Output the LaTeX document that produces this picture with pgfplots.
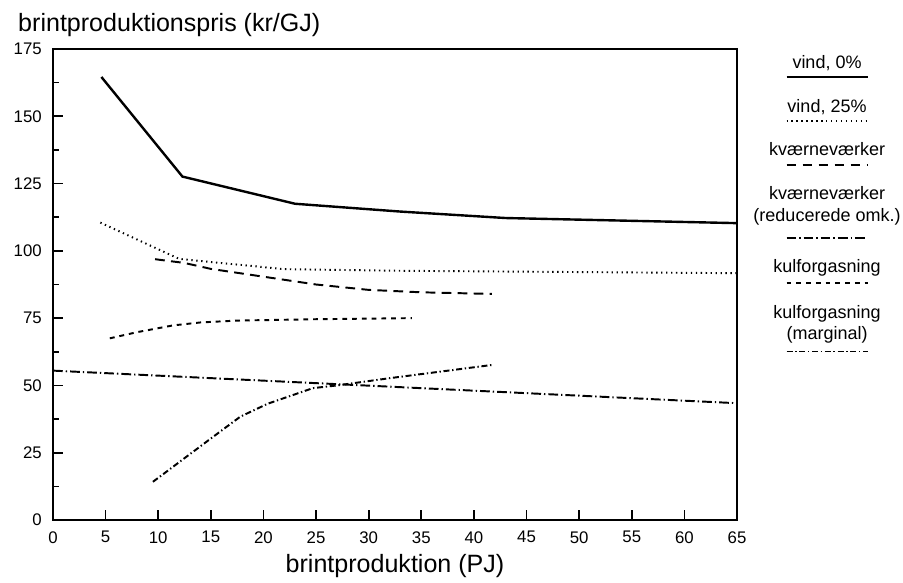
\documentclass[border=0pt]{standalone}
\usepackage{fontspec}
\setmainfont{Liberation Sans}
\usepackage{pgfplots}
\pgfplotsset{compat=1.18}

% line samples that sit under each legend text
\newcommand{\legline}[1]{\tikz[baseline=0pt]\draw[line width=1.3pt,#1] (0,0.7pt) -- (54pt,0.7pt);}

\tikzset{
  dotline/.style={dash pattern=on 0.9pt off 2.4pt},
  longdash/.style={dash pattern=on 6.5pt off 4.2pt},
  shortdash/.style={dash pattern=on 3.3pt off 3.2pt},
  dashdot/.style={dash pattern=on 6.5pt off 2pt on 0.9pt off 2pt},
  dashdotshort/.style={dash pattern=on 4pt off 1.8pt on 0.9pt off 1.8pt},
}

\begin{document}
\begin{tikzpicture}
\begin{axis}[
    name=ax,
    scale only axis,
    width=456pt, height=314pt,
    xmin=0, xmax=65, ymin=0, ymax=175,
    xtick={0,5,...,65},
    ytick={0,25,...,175},
    minor ytick={12.5,37.5,...,162.5},
    tick pos=left,
    tick align=inside,
    axis line style={line width=1.5pt},
    every tick/.style={black, line width=1.1pt},
    major tick length=6.5pt,
    minor tick length=4pt,
    /pgf/number format/assume math mode=true,
    ticklabel style={font=\fontsize{11.2}{13}\selectfont},
    xticklabel style={yshift=-4pt},
    yticklabel style={xshift=-4pt},
    xlabel={brintproduktion (PJ)},
    xlabel style={font=\fontsize{16.7}{19}\selectfont, at={(axis description cs:0.5,0)}, anchor=base, yshift=-35.3pt},
    ylabel={brintproduktionspris (kr/GJ)},
    ylabel style={font=\fontsize{16.7}{19}\selectfont, rotate=-90, at={(axis description cs:0,1)}, anchor=base west, xshift=-26.7pt, yshift=11.5pt},
    legend plot pos=none,
    legend cell align=center,
    legend style={draw=none, fill=none, at={(axis description cs:1.1316,1.0)}, anchor=north,
                  font=\fontsize{12}{14.5}\selectfont, row sep=8.5pt, cells={align=center}},
]
\addplot[black, line width=1.6pt] coordinates {(4.6,164.6) (12.3,127.6) (23,117.5) (33,114.6) (43,112.2) (65,110.3)};
\addlegendentry{vind, 0\%\\[-8pt]\legline{solid}}
\addplot[black, line width=1.3pt, dotline] coordinates {(4.5,110.5) (12,97) (22,93.2) (33,92.6) (65,91.7)};
\addlegendentry{vind, 25\%\\[-8pt]\legline{dotline}}
\addplot[black, line width=1.3pt, longdash] coordinates {(9.7,96.9) (12.5,95.5) (15,93.3) (20,90.4) (25,87.5) (30,85.5) (35,84.6) (41.7,84.0)};
\addlegendentry{kværneværker\\[-8pt]\legline{longdash}}
\addplot[black, line width=1.3pt, dashdot] coordinates {(0,55.5) (65,43.4)};
\addlegendentry{kværneværker\\(reducerede omk.)\\[-3pt]\legline{dashdot}}
\addplot[black, line width=1.3pt, shortdash] coordinates {(5.4,67.5) (8,69.8) (11.4,72.3) (14,73.4) (17.5,74.1) (25,74.6) (34.1,75.0)};
\addlegendentry{kulforgasning\\[-7pt]\legline{shortdash}}
\addplot[black, line width=1.3pt, dashdotshort] coordinates {(9.5,14.2) (14.8,29.7) (17.8,38.4) (20.4,43.2) (24.7,49.0) (27,50.0) (32,52.7) (41.7,57.6)};
\addlegendentry{kulforgasning\\(marginal)\\[-6pt]\legline{dashdotshort}}
\end{axis}
\pgfresetboundingbox
\path[use as bounding box] ([shift={(-35.33pt,-41.33pt)}]ax.south west) rectangle ([shift={(110.67pt,32.67pt)}]ax.north east);
\end{tikzpicture}
\end{document}
